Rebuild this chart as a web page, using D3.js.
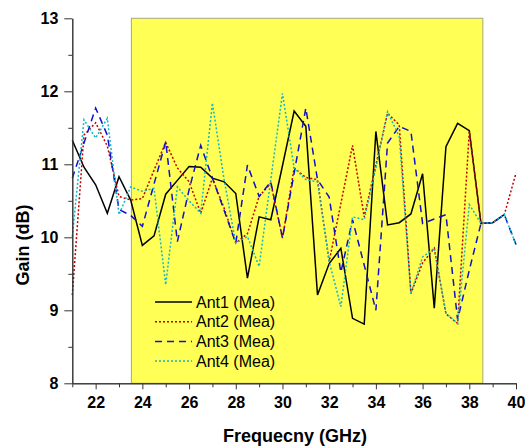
<!DOCTYPE html>
<html>
<head>
<meta charset="utf-8">
<script src="https://cdn.jsdelivr.net/npm/d3@7"></script>
<style>
  body { margin: 0; background: #fff; }
  svg { display: block; font-family: "Liberation Sans", Arial, sans-serif; }
</style>
</head>
<body>
<div id="chart"></div>
<script>
const freq = d3.range(21, 40.01, 0.5);

const ant1 = [11.33, 10.96, 10.72, 10.33, 10.83, 10.51, 9.89, 10.02, 10.59, 10.78,
  10.97, 10.96, 10.81, 10.76, 10.60, 9.44, 10.28, 10.24, 10.98, 11.73,
  11.52, 9.21, 9.64, 9.85, 8.89, 8.81, 11.45, 10.17, 10.20, 10.32,
  10.87, 9.03, 11.24, 11.56, 11.46, 10.19, 10.20, 10.31];
const ant2 = [9.21, 11.40, 11.57, 11.25, 10.56, 10.51, 10.53, 10.92, 11.30, 10.95,
  10.76, 10.33, 10.81, 10.40, 9.92, 10.05, 10.56, 10.74, 9.99, 10.95,
  10.82, 10.79, 9.67, 10.46, 11.26, 10.28, 10.99, 11.70, 11.54, 9.23,
  9.65, 9.85, 8.95, 8.82, 11.45, 10.19, 10.20, 10.31, 10.88];
const ant3 = [10.81, 11.29, 11.77, 11.40, 10.38, 10.30, 10.15, 10.73, 11.31, 9.94,
  10.65, 11.26, 10.81, 10.37, 9.92, 10.99, 10.56, 10.76, 9.99, 10.88,
  11.77, 10.79, 10.55, 9.52, 10.24, 9.62, 9.00, 11.29, 11.52, 11.45,
  10.19, 10.25, 10.31, 8.87, 9.55, 10.19, 10.20, 10.31, 9.90];
const ant4 = [10.01, 11.61, 11.36, 11.63, 10.31, 10.69, 10.63, 10.67, 9.35, 10.69,
  10.50, 10.33, 11.84, 10.79, 9.92, 10.01, 9.60, 10.79, 11.97, 10.95,
  10.79, 10.76, 9.67, 9.05, 10.28, 10.24, 10.95, 11.72, 11.38, 9.23,
  9.73, 9.85, 8.96, 8.82, 10.45, 10.19, 10.20, 10.31, 9.90];

const seriesNames = ['Ant1 (Mea)', 'Ant2 (Mea)', 'Ant3 (Mea)', 'Ant4 (Mea)'];
const bandRange = [23.53, 38.58];
const xMajor = d3.range(22, 40.1, 2);
const xMinor = d3.range(21, 40, 2);
const yMajor = [8, 9, 10, 11, 12, 13];
const yMinor = [8.5, 9.5, 10.5, 11.5, 12.5];

const width = 525, height = 448;
const styles = [
  { color: '#000000', dash: null, w: 1.5 },
  { color: '#c00000', dash: '2,2', w: 1.5 },
  { color: '#1010c8', dash: '7,5', w: 1.5 },
  { color: '#10b8c8', dash: '2,2', w: 1.5 },
];

const svg = d3.select('#chart').append('svg')
  .attr('width', width).attr('height', height);

const x = d3.scaleLinear().domain([21, 40]).range([72.3, 516]);
const y = d3.scaleLinear().domain([8, 13]).range([383.3, 18.3]);

// highlighted band
svg.append('rect')
  .attr('x', x(bandRange[0])).attr('y', y(13))
  .attr('width', x(bandRange[1]) - x(bandRange[0]))
  .attr('height', y(8) - y(13))
  .attr('fill', '#ffff55').attr('stroke', '#a8a878').attr('stroke-width', 1);

const line = d3.line().x(d => x(d[0])).y(d => y(d[1]));
[ant1, ant2, ant3, ant4].forEach((vals, i) => {
  const pts = vals.map((v, j) => [freq[j], v]);
  svg.append('path').datum(pts)
    .attr('d', line)
    .attr('fill', 'none')
    .attr('stroke', styles[i].color)
    .attr('stroke-width', styles[i].w)
    .attr('stroke-dasharray', styles[i].dash);
});

// axes
const styleAxis = g => {
  g.selectAll('.domain').attr('stroke', '#333');
  g.selectAll('line').attr('stroke', '#333');
  g.selectAll('text').attr('fill', '#000').attr('font-size', 16).attr('font-weight', 'bold')
    .attr('font-family', '"Liberation Sans", Arial, sans-serif');
};

svg.append('g').attr('transform', `translate(0,${y(8)})`)
  .call(d3.axisBottom(x).tickValues(xMinor).tickSize(4).tickSizeOuter(0).tickFormat(''))
  .call(styleAxis);
svg.append('g').attr('transform', `translate(0,${y(8)})`)
  .call(d3.axisBottom(x).tickValues(xMajor).tickSize(6).tickSizeOuter(0).tickPadding(7).tickFormat(d3.format('d')))
  .call(styleAxis);

svg.append('g').attr('transform', `translate(${x(21)},0)`)
  .call(d3.axisLeft(y).tickValues(yMinor).tickSize(4).tickSizeOuter(0).tickFormat(''))
  .call(styleAxis);
svg.append('g').attr('transform', `translate(${x(21)},0)`)
  .call(d3.axisLeft(y).tickValues(yMajor).tickSize(8).tickSizeOuter(0).tickPadding(6).tickFormat(d3.format('d')))
  .call(styleAxis);

// axis titles
svg.append('text')
  .attr('x', 295).attr('y', 442)
  .attr('text-anchor', 'middle')
  .attr('font-size', 18).attr('font-weight', 'bold')
  .text('Frequecny (GHz)');

svg.append('text')
  .attr('transform', `translate(29,245) rotate(-90)`)
  .attr('text-anchor', 'middle')
  .attr('font-size', 18).attr('font-weight', 'bold')
  .text('Gain (dB)');

// legend
const legend = svg.append('g').attr('transform', 'translate(155,302)');
seriesNames.forEach((name, i) => {
  const row = legend.append('g').attr('transform', `translate(0,${i * 19.7})`);
  row.append('line')
    .attr('x1', 0).attr('x2', 37).attr('y1', 0).attr('y2', 0)
    .attr('stroke', styles[i].color)
    .attr('stroke-width', styles[i].w)
    .attr('stroke-dasharray', styles[i].dash);
  row.append('text')
    .attr('x', 41).attr('y', 0).attr('dy', '0.35em')
    .attr('font-size', 16)
    .text(name);
});
</script>
</body>
</html>
